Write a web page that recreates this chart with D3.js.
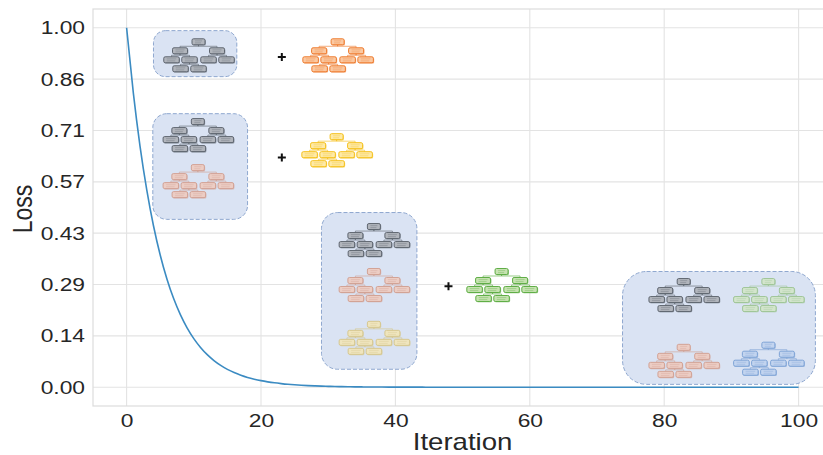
<!DOCTYPE html>
<html><head><meta charset="utf-8">
<script src="https://cdn.jsdelivr.net/npm/d3@7"></script>
<style>
html,body{margin:0;padding:0;background:#fff;}
svg{display:block;font-family:"Liberation Sans",Arial,sans-serif;}
</style></head><body>
<svg id="chart" width="823" height="455"></svg>
<script>
// ---- data ----
const iterations = d3.range(0, 101);
const lossValues = [
1.0,0.8187,0.6703,0.5488,0.4493,0.3679,0.3012,0.2466,0.2019,0.1653,
0.1353,0.1108,0.0907,0.0743,0.0608,0.0498,0.0408,0.0334,0.0273,0.0224,
0.0183,0.0150,0.0123,0.0101,0.0082,0.0067,0.0055,0.0045,0.0037,0.0030,
0.0025,0.0020,0.0017,0.0014,0.0011,0.0009,0.0007,0.0006,0.0005,0.0004,
0.0003,0.0003,0.0002,0.0002,0.0002,0.0001,0.0001,0.0001,0.0001,0.0001,
0.0000,0.0000,0.0000,0.0000,0.0000,0.0000,0.0000,0.0000,0.0000,0.0000,
0.0000,0.0000,0.0000,0.0000,0.0000,0.0000,0.0000,0.0000,0.0000,0.0000,
0.0000,0.0000,0.0000,0.0000,0.0000,0.0000,0.0000,0.0000,0.0000,0.0000,
0.0000,0.0000,0.0000,0.0000,0.0000,0.0000,0.0000,0.0000,0.0000,0.0000,
0.0000,0.0000,0.0000,0.0000,0.0000,0.0000,0.0000,0.0000,0.0000,0.0000,
0.0000];
const xTicks = [0, 20, 40, 60, 80, 100];
const yTicks = [0, 0.1429, 0.2857, 0.4286, 0.5714, 0.7143, 0.8571, 1.0];
const yTickLabels = ["0.00","0.14","0.29","0.43","0.57","0.71","0.86","1.00"];
const xLabel = "Iteration";
const yLabel = "Loss";

// decorative inset boxes (data coords) and trees
const insetBoxes = [
  {x0:4.0, x1:16.4, y0:0.992, y1:0.864, r:12},
  {x0:3.9, x1:18.0, y0:0.761, y1:0.467, r:14},
  {x0:29.0, x1:43.2, y0:0.486, y1:0.050, r:16},
  {x0:73.8, x1:102.5, y0:0.322, y1:0.008, r:24}
];
const treeColors = {
  gray:  ["#b1b5bc","#5f6670"],
  orange:["#fbc9a2","#ee7b2e"],
  yellow:["#feeaa8","#f5c11c"],
  pink:  ["#eccdc4","#d2a295"],
  tan:   ["#efe5be","#d6c78e"],
  green: ["#c6e2b1","#5fae45"],
  pgreen:["#d3e5cd","#9fc597"],
  blue:  ["#c2d4ef","#7ea3d6"]
};
const trees = [
  {x:10.7, y:0.961, c:"gray"},
  {x:31.4, y:0.961, c:"orange"},
  {x:10.6, y:0.739, c:"gray"},
  {x:10.6, y:0.611, c:"pink"},
  {x:31.25,y:0.697, c:"yellow"},
  {x:36.8, y:0.447, c:"gray"},
  {x:36.8, y:0.322, c:"pink"},
  {x:36.8, y:0.175, c:"tan"},
  {x:55.8, y:0.322, c:"green"},
  {x:82.9, y:0.294, c:"gray"},
  {x:95.5, y:0.294, c:"pgreen"},
  {x:82.9, y:0.111, c:"pink"},
  {x:95.5, y:0.117, c:"blue"}
];
const plusSigns = [
  {x:23.1, y:0.919},
  {x:23.1, y:0.639},
  {x:47.9, y:0.281}
];

// ---- layout ----
const svg = d3.select("#chart");
const pLeft = 93, pTop = 9, pBottom = 406;
const stretch = 1.2; // horizontal stretch of the text in the reference
const x = d3.scaleLinear().domain([-5, 105]).range([pLeft, pLeft + 110*6.72]);
const y = d3.scaleLinear().domain([-0.0522, 1.0522]).range([pBottom, pTop]);
const pRight = x.range()[1];

svg.append("rect").attr("x",pLeft).attr("y",pTop).attr("width",pRight-pLeft).attr("height",pBottom-pTop)
  .attr("fill","#fff");

// grid
const grid = svg.append("g");
grid.selectAll(".gx").data(xTicks).enter().append("line")
  .attr("x1",d=>x(d)).attr("x2",d=>x(d)).attr("y1",pTop).attr("y2",pBottom)
  .attr("stroke","#e3e3e3").attr("stroke-width",1.1);
grid.selectAll(".gy").data(yTicks).enter().append("line")
  .attr("x1",pLeft).attr("x2",pRight).attr("y1",d=>y(d)).attr("y2",d=>y(d))
  .attr("stroke","#e3e3e3").attr("stroke-width",1.1);

// frame
svg.append("rect").attr("x",pLeft).attr("y",pTop).attr("width",pRight-pLeft).attr("height",pBottom-pTop)
  .attr("fill","none").attr("stroke","#dcdcdc").attr("stroke-width",1.2);

// axes
const xAxis = d3.axisBottom(x).tickValues(xTicks).tickSize(0).tickPadding(8);
const gx = svg.append("g").attr("transform",`translate(0,${pBottom})`).call(xAxis);
gx.select(".domain").remove();
gx.selectAll("text").attr("font-size",19).attr("fill","#262626")
  .attr("font-family","Liberation Sans, Arial, sans-serif")
  .attr("transform",`scale(${stretch},1)`);

const yAxis = d3.axisLeft(y).tickValues(yTicks).tickFormat((d,i)=>yTickLabels[i]).tickSize(0).tickPadding(8/stretch);
const gy = svg.append("g").attr("transform",`translate(${pLeft},0)`).call(yAxis);
gy.select(".domain").remove();
gy.selectAll("text").attr("font-size",19).attr("fill","#262626")
  .attr("font-family","Liberation Sans, Arial, sans-serif")
  .attr("transform",`scale(${stretch},1)`);

svg.append("text").attr("transform",`translate(${(x(0)+x(100))/2},450) scale(${stretch},1)`)
  .attr("text-anchor","middle")
  .attr("font-size",23).attr("fill","#262626").text(xLabel);
svg.append("text").attr("transform",`translate(32,209) scale(${stretch},1) rotate(-90)`).attr("text-anchor","middle")
  .attr("font-size",23).attr("fill","#262626").text(yLabel);

// loss curve
const line = d3.line().x((d,i)=>x(iterations[i])).y(d=>y(d)).curve(d3.curveMonotoneX);
svg.append("path").datum(lossValues).attr("d",line)
  .attr("fill","none").attr("stroke","#3b8bc2").attr("stroke-width",1.6);

// inset boxes
const deco = svg.append("g");
deco.selectAll(".box").data(insetBoxes).enter().append("rect")
  .attr("x",d=>x(d.x0)).attr("y",d=>y(d.y0))
  .attr("width",d=>x(d.x1)-x(d.x0)).attr("height",d=>y(d.y1)-y(d.y0))
  .attr("rx",d=>d.r).attr("ry",d=>d.r)
  .attr("fill","#dae3f3").attr("stroke","#8ea7cf").attr("stroke-width",1)
  .attr("stroke-dasharray","4,2");

// tree layout (pixel offsets from root center)
const nodeLayout = [
  {dx:0,dy:0,w:13},
  {dx:-18.5,dy:9,w:15},{dx:18.5,dy:9,w:15},
  {dx:-27,dy:18,w:15.5},{dx:-9,dy:18,w:15.5},{dx:10,dy:18,w:15.5},{dx:28,dy:18,w:15.5},
  {dx:-18,dy:27,w:15.5},{dx:0,dy:27,w:15.5}
];
const links = [[0,1],[0,2],[1,3],[1,4],[2,5],[2,6],[4,7],[4,8]];
trees.forEach(t=>{
  const cx = x(t.x), cy = y(t.y);
  const [fill, stroke] = treeColors[t.c];
  const g = deco.append("g").attr("transform",`translate(${cx},${cy})`);
  g.selectAll(".lk").data(links).enter().append("path")
    .attr("d",l=>{const a=nodeLayout[l[0]], b=nodeLayout[l[1]];
      const my=(a.dy+b.dy)/2; return `M${a.dx},${a.dy}V${my}H${b.dx}V${b.dy}`;})
    .attr("fill","none").attr("stroke",stroke).attr("stroke-width",0.7).attr("opacity",0.9);
  const n = g.selectAll(".nd").data(nodeLayout).enter().append("g")
    .attr("transform",d=>`translate(${d.dx},${d.dy})`);
  n.append("rect").attr("x",d=>-d.w/2+0.8).attr("y",-3+0.8).attr("width",d=>d.w).attr("height",6)
    .attr("rx",1.5).attr("fill",stroke).attr("opacity",0.7);
  n.append("rect").attr("x",d=>-d.w/2).attr("y",-3).attr("width",d=>d.w).attr("height",6)
    .attr("rx",1.5).attr("fill",fill).attr("stroke",stroke).attr("stroke-width",1);
  n.append("line").attr("x1",d=>-d.w/2+3).attr("x2",d=>d.w/2-3).attr("y1",-0.9).attr("y2",-0.9)
    .attr("stroke",stroke).attr("stroke-width",0.5).attr("opacity",0.7);
  n.append("line").attr("x1",d=>-d.w/2+3).attr("x2",d=>d.w/2-4).attr("y1",1.1).attr("y2",1.1)
    .attr("stroke",stroke).attr("stroke-width",0.5).attr("opacity",0.7);
});

// plus signs
deco.selectAll(".plus").data(plusSigns).enter().append("path")
  .attr("d",d=>{const px=x(d.x), py=y(d.y); return `M${px-4},${py}H${px+4}M${px},${py-4}V${py+4}`;})
  .attr("stroke","#111").attr("stroke-width",2);
</script>
</body></html>
